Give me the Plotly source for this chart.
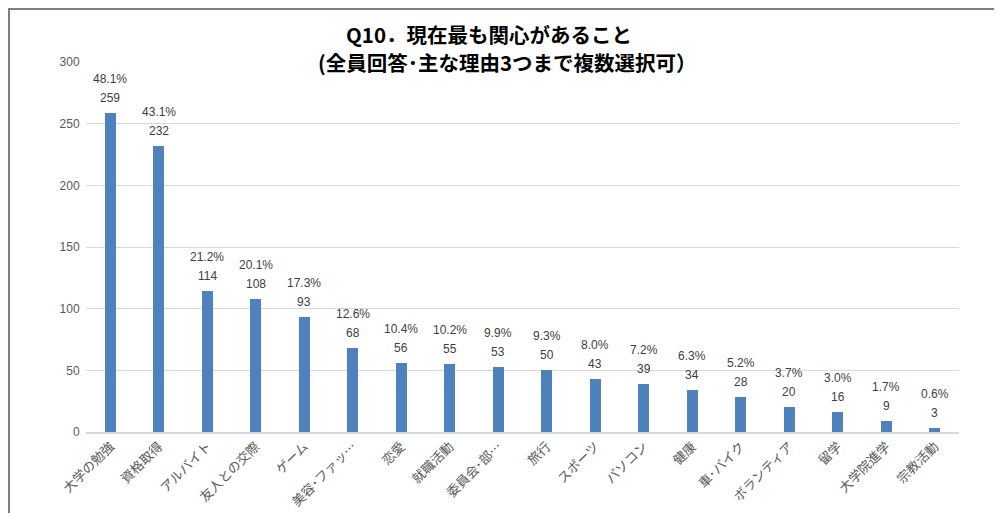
import plotly.graph_objects as go

categories = ["大学の勉強", "資格取得", "アルバイト", "友人との交際", "ゲーム", "美容･ファッ…",
              "恋愛", "就職活動", "委員会･部…", "旅行", "スポーツ", "パソコン", "健康",
              "車･バイク", "ボランティア", "留学", "大学院進学", "宗教活動"]
counts = [259, 232, 114, 108, 93, 68, 56, 55, 53, 50, 43, 39, 34, 28, 20, 16, 9, 3]
percents = [48.1, 43.1, 21.2, 20.1, 17.3, 12.6, 10.4, 10.2, 9.9, 9.3, 8.0, 7.2, 6.3, 5.2, 3.7, 3.0, 1.7, 0.6]
y_ticks = [0, 50, 100, 150, 200, 250, 300]
title_line1 = "Q10．現在最も関心があること"
title_line2 = "(全員回答･主な理由3つまで複数選択可）"

# page body has an 8px margin; figure sits at (8, 8) in the window
W, H = 994, 505
L, R, T, B = 78, 43, 54, 81
pw, ph = W - L - R, H - T - B

font_fam = "Liberation Sans, Noto Sans CJK JP, sans-serif"
cjk_font = "Noto Sans CJK JP, sans-serif"

fig = go.Figure()
fig.add_trace(go.Bar(x=categories, y=counts, marker=dict(color="#4f81bd", line=dict(width=0)),
                     width=0.23, hoverinfo="x+y"))

annotations = []
for c, v, p in zip(categories, counts, percents):
    annotations.append(dict(x=c, y=v, xref="x", yref="y", text=str(v), showarrow=False,
                            yanchor="middle", yshift=15,
                            font=dict(family=font_fam, size=12, color="#404040")))
    annotations.append(dict(x=c, y=v, xref="x", yref="y", text=f"{p:.1f}%", showarrow=False,
                            yanchor="middle", yshift=34,
                            font=dict(family=font_fam, size=12, color="#404040")))

def px_x(x):
    return (x - L) / pw

def px_y(y):
    return 1 - (y - T) / ph

annotations.append(dict(x=px_x(481), y=px_y(25.5), xref="paper", yref="paper",
                        text=f"<b>{title_line1}</b>",
                        showarrow=False, xanchor="center", yanchor="middle",
                        font=dict(family=cjk_font, size=20.5, color="#000000")))
annotations.append(dict(x=px_x(499), y=px_y(54.5), xref="paper", yref="paper",
                        text=f"<b>{title_line2}</b>",
                        showarrow=False, xanchor="center", yanchor="middle",
                        font=dict(family=cjk_font, size=20.5, color="#000000")))

shapes = [
    dict(type="line", xref="paper", yref="paper", x0=px_x(0), y0=px_y(1), x1=px_x(W), y1=px_y(1),
         line=dict(color="#7f7f7f", width=2)),
    dict(type="line", xref="paper", yref="paper", x0=px_x(1), y0=px_y(0), x1=px_x(1), y1=px_y(H),
         line=dict(color="#7f7f7f", width=2)),
]

fig.update_layout(
    width=W, height=H,
    margin=dict(l=L, r=R, t=T, b=B, autoexpand=False),
    paper_bgcolor="white", plot_bgcolor="white",
    showlegend=False,
    annotations=annotations,
    shapes=shapes,
    bargap=0,
    xaxis=dict(tickangle=-45, tickfont=dict(family=cjk_font, size=13, color="#595959"),
               showgrid=False, showline=True, linecolor="#d9d9d9", linewidth=1.5, ticks="",
               automargin=False),
    yaxis=dict(range=[0, 300], tickvals=y_ticks, tickfont=dict(family=font_fam, size=12, color="#595959"),
               showgrid=True, gridcolor="#d9d9d9", gridwidth=1, zeroline=False, showline=False,
               ticks="outside", ticklen=3, tickcolor="rgba(0,0,0,0)", automargin=False),
)

fig.write_html("out.html")
